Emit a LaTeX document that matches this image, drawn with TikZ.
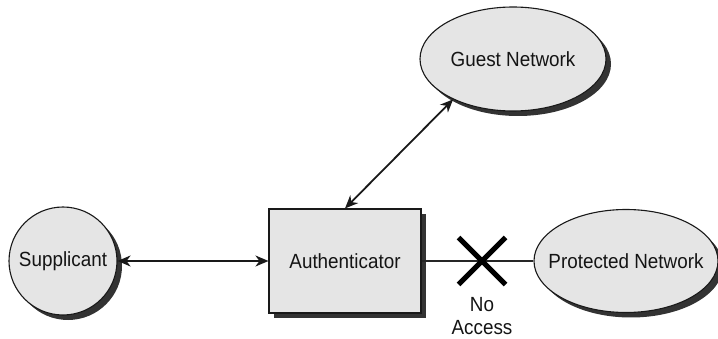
\documentclass[tikz,border=0pt]{standalone}
\usepackage{fontspec}
\setmainfont{Liberation Sans}[FakeStretch=0.92]
\usetikzlibrary{arrows.meta,positioning,shapes.geometric,shapes.misc,shadows}

\begin{document}
\begin{tikzpicture}[
    x=1pt, y=-1pt,
    every node/.style={font=\fontsize{20.5}{23}\selectfont, text=black!92},
    castshadow/.style={drop shadow={shadow xshift=5pt, shadow yshift=-5pt, fill=black!80, opacity=1}},
    entity/.style={draw=black!90, line width=1.1pt, fill=black!10, castshadow},
    link/.style={{Stealth[length=13pt,width=11pt,inset=4pt]}-{Stealth[length=13pt,width=11pt,inset=4pt]}, line width=1.8pt, black!90}
]

\useasboundingbox (0,0) rectangle (718,339);

% Nodes
\node[entity, circle, minimum size=108pt, inner sep=0pt] (supp) at (63,261) {Supplicant};
\node[entity, rectangle, minimum width=152pt, minimum height=104pt] (auth) at (345,261) {Authenticator};
\node[entity, ellipse, minimum width=186pt, minimum height=104pt, inner sep=0pt,
      label=center:{Guest Network}] (guest) at (513,59) {};
\node[entity, ellipse, minimum width=184pt, minimum height=103pt, inner sep=0pt,
      label=center:{Protected Network}] (prot) at (626,261) {};

% Connections
\draw[link] (supp) -- (auth);
\draw[link] (guest.214) -- (auth.north);
\draw[line width=1.1pt, black!85] (auth) -- (prot);

% Blocked path
\node[cross out, draw=black, line width=5pt, minimum size=42pt, inner sep=0pt] (block) at (482,261) {};
\node[align=center] (noaccess) at (482,316) {No\\Access};

\end{tikzpicture}
\end{document}
